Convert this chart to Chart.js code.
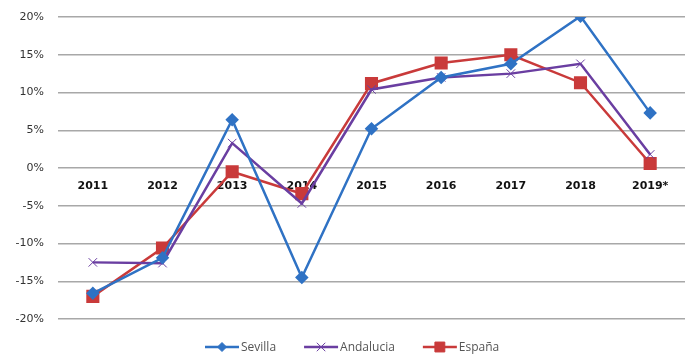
<!DOCTYPE html>
<html>
<head>
<meta charset="utf-8">
<script src="https://cdn.jsdelivr.net/npm/chart.js@4"></script>
<style>
  html, body { margin: 0; padding: 0; background: #fff; }
  #wrap { width: 700px; height: 362px; }
</style>
</head>
<body>
<div id="wrap"><canvas id="chart" width="700" height="362"></canvas></div>
<script>
const years = ['2011', '2012', '2013', '2014', '2015', '2016', '2017', '2018', '2019*'];
const sevilla = [-16.6, -11.9, 6.4, -14.5, 5.2, 12.0, 13.8, 20.1, 7.3];
const andalucia = [-12.5, -12.6, 3.3, -4.7, 10.4, 12.0, 12.5, 13.8, 1.8];
const espana = [-17.0, -10.6, -0.5, -3.4, 11.2, 13.9, 15.0, 11.3, 0.6];
const yTicks = [-20, -15, -10, -5, 0, 5, 10, 15, 20];

// legend drawn by hand: line + marker + label, like the office style legend
const lineLegend = {
    id: 'lineLegend',
    afterDraw(chart) {
        const ctx = chart.ctx;
        const y = 347;
        let x = 205;
        ctx.save();
        ctx.font = '12px "Open Sans"';
        ctx.textBaseline = 'middle';
        chart.data.datasets.forEach((ds) => {
            ctx.strokeStyle = ds.borderColor;
            ctx.lineWidth = 2.5;
            ctx.beginPath();
            ctx.moveTo(x, y);
            ctx.lineTo(x + 34, y);
            ctx.stroke();
            ctx.fillStyle = ds.borderColor;
            ctx.lineWidth = ds.pointBorderWidth || 1;
            Chart.helpers.drawPoint(ctx, {
                pointStyle: ds.pointStyle,
                radius: ds.legendRadius,
                borderWidth: ds.pointBorderWidth || 1
            }, x + 17, y);
            ctx.fillStyle = '#555';
            ctx.fillText(ds.label, x + 36, y + 1);
            x += 36 + ctx.measureText(ds.label).width + 28;
        });
        ctx.restore();
    }
};

function setPointColors(ds) {
    ds.pointBackgroundColor = ds.borderColor;
    ds.pointBorderColor = ds.borderColor;
    return ds;
}

new Chart(document.getElementById('chart'), {
    type: 'line',
    data: {
        labels: years,
        datasets: [
            setPointColors({
                label: 'Sevilla',
                data: sevilla,
                borderColor: '#2f72c4',
                borderWidth: 2.5,
                pointStyle: 'rectRot',
                pointRadius: 5,
                legendRadius: 4.5
            }),
            setPointColors({
                label: 'Andalucia',
                data: andalucia,
                borderColor: '#6a3ea1',
                borderWidth: 2.5,
                pointStyle: 'crossRot',
                pointRadius: 6,
                pointBorderWidth: 1,
                legendRadius: 6
            }),
            setPointColors({
                label: 'España',
                data: espana,
                borderColor: '#c93a3a',
                borderWidth: 2.5,
                pointStyle: 'rect',
                pointRadius: 7.5,
                legendRadius: 7
            })
        ]
    },
    options: {
        responsive: false,
        animation: false,
        layout: {
            padding: { top: 17, right: 15, bottom: 43, left: 0 }
        },
        elements: {
            line: { tension: 0 }
        },
        scales: {
            x: {
                position: { y: 0 },
                offset: true,
                grid: { display: false },
                border: { display: false },
                ticks: {
                    color: '#111',
                    padding: 4,
                    font: { family: 'DejaVu Sans', size: 11, weight: 'bold' }
                }
            },
            y: {
                min: -20,
                max: 20,
                afterBuildTicks: (scale) => {
                    scale.ticks = yTicks.map((v) => ({ value: v }));
                },
                afterFit: (scale) => {
                    scale.width = 58;
                    scale.paddingTop = 0;
                    scale.paddingBottom = 0;
                },
                grid: { color: '#a8a8a8', lineWidth: 1.5, drawTicks: false },
                border: { display: false },
                ticks: {
                    color: '#333',
                    padding: 14,
                    font: { family: 'DejaVu Sans', size: 11 },
                    callback: (v) => v + '%'
                }
            }
        },
        plugins: {
            legend: { display: false },
            tooltip: { enabled: false }
        }
    },
    plugins: [lineLegend]
});
</script>
</body>
</html>
